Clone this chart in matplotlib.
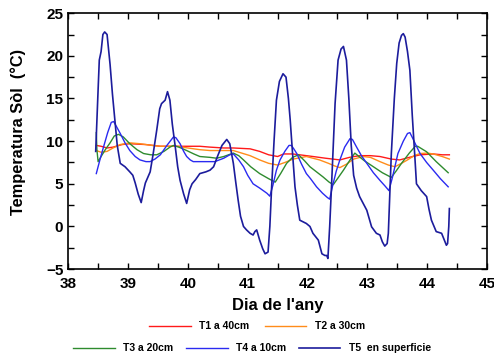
import matplotlib
matplotlib.use("Agg")
import matplotlib.pyplot as plt
from matplotlib.ticker import MultipleLocator

plt.rcParams["font.family"] = ["Liberation Sans", "DejaVu Sans"]
plt.rcParams["font.weight"] = "bold"

# T5 en superficie
t5_day = [38.46, 38.50, 38.52, 38.55, 38.58, 38.61, 38.65, 38.70, 38.74, 38.78, 38.82, 38.87,
          38.95, 39.03, 39.08, 39.12, 39.17, 39.22, 39.26, 39.29, 39.37, 39.42, 39.48, 39.53,
          39.56, 39.62, 39.66, 39.70, 39.74, 39.79, 39.83, 39.87, 39.93, 39.98, 40.03, 40.07,
          40.13, 40.20, 40.30, 40.37, 40.43, 40.50, 40.57, 40.65, 40.70, 40.76, 40.80, 40.84,
          40.88, 40.93, 40.98, 41.04, 41.09, 41.12, 41.15, 41.20, 41.25, 41.29, 41.34, 41.37,
          41.40, 41.44, 41.48, 41.53, 41.59, 41.64, 41.68, 41.71, 41.75, 41.79, 41.83, 41.87,
          41.98, 42.04, 42.09, 42.18, 42.24, 42.29, 42.32, 42.34, 42.37, 42.40, 42.46, 42.51,
          42.56, 42.60, 42.65, 42.69, 42.73, 42.77, 42.82, 42.87, 42.99, 43.07, 43.15, 43.21,
          43.25, 43.29, 43.33, 43.35, 43.40, 43.45, 43.49, 43.53, 43.57, 43.60, 43.63, 43.67,
          43.71, 43.75, 43.79, 43.82, 43.90, 43.99, 44.03, 44.07, 44.15, 44.24, 44.28, 44.32,
          44.34, 44.36, 44.37]
t5_val = [8.8, 16.0, 19.5, 20.5, 22.5, 22.8, 22.5, 19.0, 15.5, 12.5, 9.5, 7.4,
          7.0, 6.4, 6.0, 5.1, 3.8, 2.8, 4.2, 5.1, 6.4, 8.5, 11.3, 13.8,
          14.4, 14.8, 15.8, 14.8, 12.0, 9.3, 7.0, 5.4, 3.8, 2.7, 4.3, 5.0,
          5.5, 6.2, 6.4, 6.6, 7.0, 8.3, 9.5, 10.2, 9.7, 7.4, 5.2, 3.1,
          1.2, 0.0, -0.4, -0.8, -1.0, -0.6, -0.4, -1.6, -2.6, -3.2, -3.0, 0.0,
          4.65, 10.0, 14.8, 17.0, 17.9, 17.5, 15.0, 12.5, 8.5, 4.65, 2.5, 0.74,
          0.35, 0.0, -0.8, -1.6, -3.2, -3.4, -3.4, -3.75, 0.0, 4.65, 14.4, 19.5,
          20.8, 21.1, 19.5, 15.0, 9.5, 6.0, 4.5, 3.5, 1.9, -0.04, -0.8, -1.0,
          -1.8, -2.3, -2.0, -0.8, 8.55, 15.0, 19.1, 21.5, 22.4, 22.6, 22.2, 20.5,
          18.3, 13.0, 8.5, 5.0, 4.2, 3.5, 2.0, 0.74, -0.6, -0.8, -1.5, -2.2,
          -2.0, 0.0, 2.1]

# T4 a 10cm
t4_day = [38.47, 38.53, 38.59, 38.66, 38.72, 38.76, 38.80, 38.87, 38.95, 39.03, 39.12, 39.20,
          39.30, 39.37, 39.45, 39.54, 39.65, 39.76, 39.80, 39.87, 39.93, 39.98, 40.04, 40.09,
          40.20, 40.37, 40.45, 40.60, 40.70, 40.76, 40.85, 40.93, 41.00, 41.09, 41.20, 41.32,
          41.37, 41.42, 41.48, 41.54, 41.62, 41.69, 41.73, 41.77, 41.82, 41.90, 41.98, 42.05,
          42.15, 42.25, 42.33, 42.37, 42.42, 42.48, 42.54, 42.62, 42.71, 42.75, 42.82, 42.90,
          42.99, 43.10, 43.21, 43.30, 43.36, 43.42, 43.51, 43.60, 43.67, 43.71, 43.76, 43.82,
          43.88, 43.99, 44.10, 44.22, 44.35]
t4_val = [6.2, 7.8, 9.3, 11.0, 12.2, 12.3, 11.8, 10.9, 9.8, 8.9, 8.2, 7.8,
          7.6, 7.6, 7.9, 8.4, 9.5, 10.5, 10.4, 9.7, 8.8, 8.2, 7.8, 7.6,
          7.6, 7.6, 7.6, 8.0, 8.4, 8.5, 7.8, 7.0, 6.0, 5.0, 4.5, 3.9,
          3.55, 4.8, 6.6, 7.8, 8.8, 9.5, 9.5, 9.1, 8.55, 7.3, 6.2, 5.6,
          4.65, 3.9, 3.4, 3.2, 4.8, 6.5, 7.8, 9.3, 10.3, 10.2, 9.3, 8.3,
          7.4, 6.3, 5.4, 4.7, 4.2, 5.8, 8.55, 10.0, 10.9, 11.0, 10.3, 9.4,
          8.55, 7.5, 6.6, 5.6, 4.65]

# T3 a 20cm
t3_day = [38.47, 38.48, 38.50, 38.55, 38.62, 38.70, 38.77, 38.84, 38.92, 39.03, 39.15, 39.26,
          39.38, 39.48, 39.60, 39.70, 39.76, 39.85, 39.98, 40.10, 40.20, 40.37, 40.48, 40.60,
          40.76, 40.85, 40.93, 41.05, 41.20, 41.35, 41.46, 41.55, 41.65, 41.75, 41.85, 41.95,
          42.04, 42.15, 42.26, 42.36, 42.43, 42.50, 42.60, 42.71, 42.79, 42.86, 42.95, 43.10,
          43.25, 43.40, 43.48, 43.57, 43.70, 43.80, 43.84, 43.99, 44.15, 44.35]
t3_val = [11.0, 9.0, 7.6, 8.2, 9.0, 9.8, 10.6, 10.8, 10.5, 9.7, 9.0, 8.55,
          8.4, 8.4, 8.8, 9.3, 9.5, 9.3, 8.9, 8.5, 8.2, 8.1, 8.0, 8.2,
          8.6, 8.3, 7.8, 7.0, 6.2, 5.6, 5.2, 6.2, 7.4, 8.1, 8.4, 7.7,
          7.0, 6.4, 5.8, 5.2, 4.9, 5.6, 6.6, 7.8, 8.6, 8.2, 7.7, 7.0,
          6.3, 5.75, 6.5, 7.4, 8.6, 9.4, 9.4, 8.75, 7.6, 6.3]

# T2 a 30cm
t2_day = [38.47, 38.55, 38.65, 38.75, 38.87, 39.03, 39.20, 39.40, 39.54, 39.70, 39.81, 40.00,
          40.20, 40.37, 40.60, 40.76, 40.90, 41.04, 41.20, 41.35, 41.50, 41.62, 41.76, 41.98,
          42.20, 42.35, 42.45, 42.54, 42.65, 42.77, 42.93, 43.05, 43.21, 43.35, 43.46, 43.57,
          43.67, 43.78, 43.88, 44.00, 44.10, 44.25, 44.37]
t2_val = [8.9, 8.7, 8.8, 9.2, 9.6, 9.8, 9.7, 9.5, 9.4, 9.4, 9.4, 9.2,
          9.0, 8.9, 8.9, 8.9, 8.6, 8.3, 7.8, 7.4, 7.2, 7.5, 7.9, 8.2,
          7.8, 7.4, 7.1, 6.9, 7.3, 7.9, 8.2, 8.1, 7.6, 7.2, 7.0, 7.4,
          7.8, 8.3, 8.55, 8.6, 8.5, 8.2, 7.9]

# T1 a 40cm
t1_day = [38.47, 38.55, 38.65, 38.75, 38.90, 39.03, 39.30, 39.54, 39.80, 40.00, 40.20, 40.37,
          40.60, 40.76, 41.04, 41.20, 41.35, 41.50, 41.60, 41.75, 41.87, 42.09, 42.30, 42.54,
          42.70, 42.87, 43.05, 43.21, 43.40, 43.54, 43.70, 43.88, 44.10, 44.25, 44.37]
t1_val = [9.5, 9.4, 9.2, 9.3, 9.6, 9.7, 9.6, 9.4, 9.4, 9.4, 9.4, 9.3,
          9.2, 9.2, 9.1, 8.8, 8.4, 8.2, 8.5, 8.5, 8.4, 8.2, 8.0, 7.8,
          8.1, 8.3, 8.3, 8.2, 7.9, 7.8, 8.1, 8.4, 8.5, 8.4, 8.4]

fig = plt.figure(figsize=(4.94, 3.56), dpi=100)
ax = fig.add_axes([0.138, 0.244, 0.848, 0.719])

l1, = ax.plot(t1_day, t1_val, color="#ff1a1a", lw=1.0, label="T1 a 40cm")
l2, = ax.plot(t2_day, t2_val, color="#ff8c1a", lw=1.0, label="T2 a 30cm")
l3, = ax.plot(t3_day, t3_val, color="#2e8b2e", lw=1.0, label="T3 a 20cm")
l4, = ax.plot(t4_day, t4_val, color="#2a2af0", lw=1.0, label="T4 a 10cm")
l5, = ax.plot(t5_day, t5_val, color="#1c1c9c", lw=1.2, label="T5  en superficie")

ax.set_xlim(38, 45)
ax.set_ylim(-5, 25)
ax.xaxis.set_major_locator(MultipleLocator(1))
ax.xaxis.set_minor_locator(MultipleLocator(0.5))
ax.yaxis.set_major_locator(MultipleLocator(5))
ax.yaxis.set_minor_locator(MultipleLocator(2.5))
ax.tick_params(which="both", direction="in", top=True, right=True, labelsize=11, width=1, length=4)
ax.tick_params(axis="x", which="major", pad=6)
for lab in ax.get_xticklabels() + ax.get_yticklabels():
    lab.set_fontweight("bold")
for s in ax.spines.values():
    s.set_linewidth(1.2)

ax.set_xlabel("Dia de l'any", fontsize=12, fontweight="bold", labelpad=5)
ax.set_ylabel("Temperatura Sòl  (°C)", fontsize=11.8, fontweight="bold")
ax.yaxis.set_label_coords(-0.1, 0.535)

fig.legend(handles=[l1, l2], loc="center", bbox_to_anchor=(0.52, 0.083), ncol=2,
           frameon=False, handlelength=4, columnspacing=1.5,
           prop={"weight": "bold", "size": 7.5})
fig.legend(handles=[l3, l4, l5], loc="center", bbox_to_anchor=(0.51, 0.022), ncol=3,
           frameon=False, handlelength=4, columnspacing=1.2,
           prop={"weight": "bold", "size": 7.5})

fig.savefig("out.png", dpi=100)
